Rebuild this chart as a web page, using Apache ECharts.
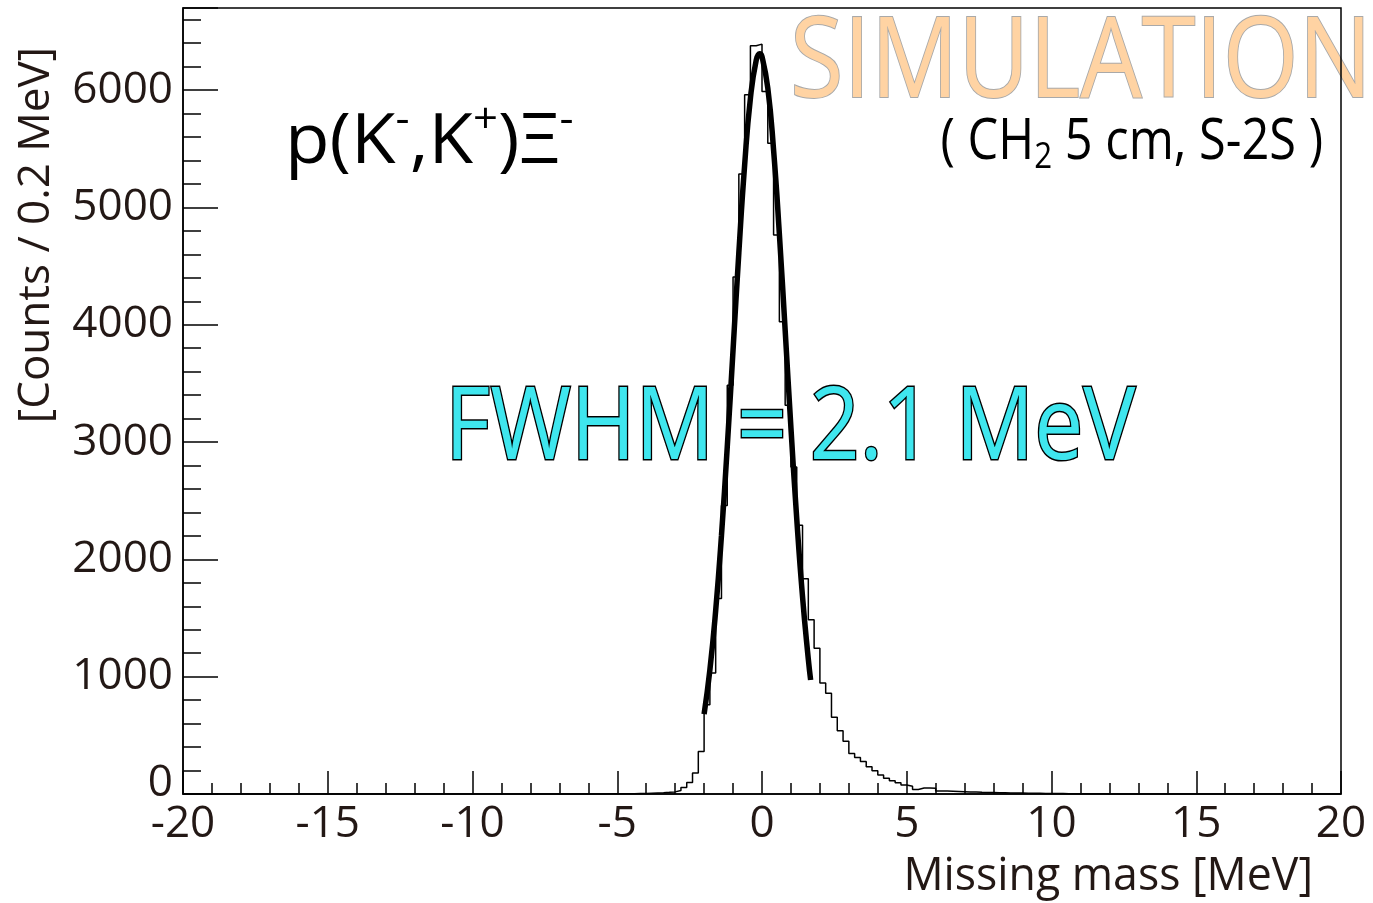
<!DOCTYPE html>
<html>
<head>
<meta charset="utf-8">
<script src="https://cdn.jsdelivr.net/npm/echarts@6/dist/echarts.min.js"></script>
<style>
  html, body { margin: 0; padding: 0; background: #fff; }
  #chart { width: 1373px; height: 903px; }
</style>
</head>
<body>
<div id="chart"></div>
<script>
// Missing-mass histogram, 0.2 MeV bins; bins outside [histStart, histStart + n*binWidth) are empty.
const axisMin = -20;
const axisMax = 20;
const binWidth = 0.2;
const histStart = -6.0;
const counts = [
  1, 1, 1, 2, 2, 2, 3, 3, 4, 5,
  7, 9, 11, 14, 18, 30, 56, 99, 179, 363,
  760, 1031, 1667, 2460, 3484, 4407, 5285, 5960, 6378, 6392,
  5988, 5548, 4765, 4025, 3314, 2787, 2290, 1835, 1485, 1243,
  947, 859, 654, 540, 449, 345, 312, 276, 233, 198,
  162, 135, 113, 95, 77, 66, 39, 51, 51, 50,
  26, 25, 24, 22, 20, 17, 16, 14, 13, 12,
  11, 10, 9, 8, 8, 7, 6, 6, 5, 5,
  4, 4, 3, 3, 3, 2, 2, 2, 2, 1,
  1, 1, 1, 1, 0, 1, 0, 1, 0, 0
];

// Gaussian fit curve (FWHM = 2.1 MeV)
const fitX = [-2.0, -1.8, -1.6, -1.4, -1.2, -1.0, -0.8, -0.6, -0.4, -0.2, -0.08, 0.0, 0.2, 0.4, 0.6, 0.8, 1.0, 1.2, 1.4, 1.6, 1.68];
const fitY = [681, 1058, 1564, 2204, 2959, 3785, 4614, 5359, 5931, 6255, 6310, 6285, 6018, 5490, 4773, 3953, 3120, 2346, 1681, 1148, 972];

const yMax = 6700;
const yMajor = 1000;
const yMinor = 200;
const xMajor = 5;

const labelColor = '#231815';
const baseFont = 'Open Sans';

// Step outline: each point is a bin's low edge holding that bin's count.
const histLine = [[axisMin, 0]];
counts.forEach((c, i) => histLine.push([+(histStart + i * binWidth).toFixed(2), c]));
const histEnd = +(histStart + counts.length * binWidth).toFixed(2);
histLine.push([histEnd, 0]);
histLine.push([axisMax, 0]);

const fitLine = fitX.map((x, i) => [x, fitY[i]]);

const chart = echarts.init(document.getElementById('chart'), null, { renderer: 'canvas' });

const tickStyle = { color: '#000', width: 1.5 };

chart.setOption({
  animation: false,
  backgroundColor: '#fff',
  grid: {
    left: 183, right: 32, top: 8, bottom: 109,
    show: true, borderColor: '#000', borderWidth: 1.5,
    backgroundColor: 'transparent'
  },
  xAxis: {
    type: 'value', min: axisMin, max: axisMax, interval: xMajor,
    axisLine: { onZero: false, lineStyle: tickStyle },
    axisTick: { inside: true, length: 23, lineStyle: tickStyle },
    minorTick: { show: true, splitNumber: 5, length: 11, lineStyle: tickStyle },
    axisLabel: { color: labelColor, fontSize: 44, fontFamily: baseFont, margin: 8 },
    splitLine: { show: false }
  },
  yAxis: [
    {
      type: 'value', min: 0, max: yMax, interval: yMajor, position: 'left',
      axisLine: { show: true, onZero: false, lineStyle: tickStyle },
      axisTick: { inside: true, length: 35, lineStyle: tickStyle },
      axisLabel: {
        color: labelColor, fontSize: 44, fontFamily: baseFont, margin: 10,
        formatter: v => (v % yMajor !== 0 ? '' : (v === 0 ? '{z|0}' : String(v))),
        rich: { z: { color: labelColor, fontSize: 44, fontFamily: baseFont, padding: [0, 0, 22, 0] } }
      },
      splitLine: { show: false }
    },
    {
      type: 'value', min: 0, max: yMax, interval: yMinor, position: 'left',
      axisLine: { show: false, onZero: false },
      axisTick: { inside: true, length: 18, lineStyle: tickStyle },
      axisLabel: { show: false },
      splitLine: { show: false }
    }
  ],
  series: [
    {
      name: 'counts', type: 'line', step: 'end', data: histLine,
      showSymbol: false, symbol: 'none',
      lineStyle: { color: '#000', width: 1.5 }, z: 3
    },
    {
      name: 'fit', type: 'line', smooth: true, data: fitLine,
      showSymbol: false, symbol: 'none',
      lineStyle: { color: '#000', width: 5.5 }, z: 4
    }
  ],
  graphic: [
    {
      type: 'text', x: 790, y: 9, z: -10,
      style: {
        text: 'SIMULATION', fontFamily: baseFont, fontSize: 112,
        fill: '#FFD3A3', stroke: '#A9A9A9', lineWidth: 2,
        textVerticalAlign: 'top'
      },
      scaleX: 0.87
    },
    {
      type: 'text', x: 1323, y: 110,
      style: {
        text: '( CH{sub|2} 5 cm, S-2S )', fontFamily: baseFont, fontSize: 56, fill: '#000',
        align: 'right', verticalAlign: 'top',
        rich: { sub: { fontFamily: baseFont, fontSize: 36, fill: '#000', padding: [30, 0, 0, 0] } }
      },
      scaleX: 0.87
    },
    {
      type: 'text', x: 285, y: 100,
      style: {
        text: 'p(K{s|-},K{s|+})Ξ{s|-}', fontFamily: baseFont, fontSize: 70, fill: '#000',
        verticalAlign: 'top',
        rich: { s: { fontFamily: baseFont, fontSize: 42, fill: '#000', padding: [0, 0, 44, 0] } }
      },
      scaleX: 1.04
    },
    {
      type: 'text', x: 445, y: 381,
      style: {
        text: 'FWHM = 2.1 MeV', fontFamily: baseFont, fontSize: 100,
        fill: '#3FE6EE', stroke: '#000', lineWidth: 3,
        verticalAlign: 'top'
      },
      scaleX: 0.875
    },
    {
      type: 'text', x: 36, y: 235, rotation: Math.PI / 2,
      style: {
        text: '[Counts / 0.2 MeV]', fontFamily: baseFont, fontSize: 44, fill: labelColor,
        align: 'center', verticalAlign: 'middle'
      }
    },
    {
      type: 'text', x: 1313, y: 877,
      style: {
        text: 'Missing mass [MeV]', fontFamily: baseFont, fontSize: 46, fill: labelColor,
        align: 'right', verticalAlign: 'middle'
      },
      scaleX: 0.97
    }
  ]
});
</script>
</body>
</html>
